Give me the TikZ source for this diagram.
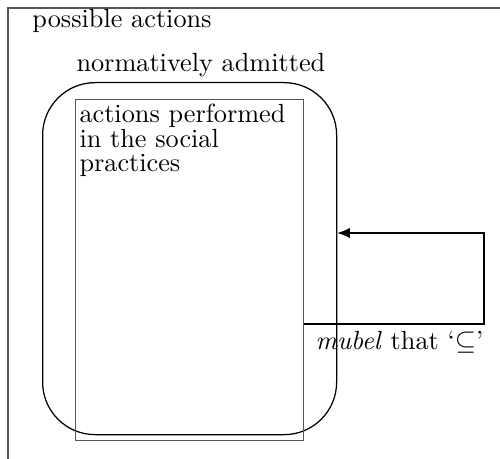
\documentclass[tikz,border=0pt]{standalone}
\usetikzlibrary{positioning,arrows.meta}
\definecolor{framegray}{RGB}{85,85,85}
\tikzset{
 setbox/.style={draw=framegray, line width=0.5pt, inner sep=0pt},
 roundset/.style={draw=black, line width=0.5pt, rounded corners=21pt, inner sep=0pt},
 setlabel/.style={font={\fontsize{10.5}{12.6}\selectfont}, inner sep=0pt},
 inner text/.style={font={\fontsize{10.5}{9.3}\selectfont}, align=left, inner sep=0pt},
}
\begin{document}
\begin{tikzpicture}[x=0.4pt, y=-0.4pt]
\useasboundingbox (0,0) rectangle (500,459);
% outer set, cut off by the page at right and bottom
\coordinate (frame ne) at (500,8);
\coordinate (frame sw) at (8,459);
\draw[framegray, line width=0.5pt] (frame ne) -| (frame sw);
\node[setlabel, anchor=base west] (possible) at (32,28) {possible actions};
% normatively admitted
\node[roundset, minimum width=117.6pt, minimum height=140.8pt, anchor=north west]
 (admitted) at (42,82) {};
\node[setlabel, anchor=base west] (admittedlabel) at (76,72) {normatively admitted};
% performed actions
\node[setbox, minimum width=91.2pt, minimum height=136.4pt, anchor=north west]
 (performed) at (75,99) {};
\node[inner text, anchor=north west] (performedlabel) at (79,103)
 {actions performed\\in the social\\practices};
% arrow back to the admitted set
\coordinate (corner low) at (484,324);
\coordinate (corner high) at (484,233);
\draw[-{Latex[length=5pt,width=4pt]}, line width=0.45pt]
 (performed.east |- corner low) -- (corner low) -- (corner high)
 -- (admitted.east |- corner high);
\node[setlabel, anchor=north east] (mubel) at (484,331) {\emph{mubel} that `$\subseteq$'};
\end{tikzpicture}
\end{document}
